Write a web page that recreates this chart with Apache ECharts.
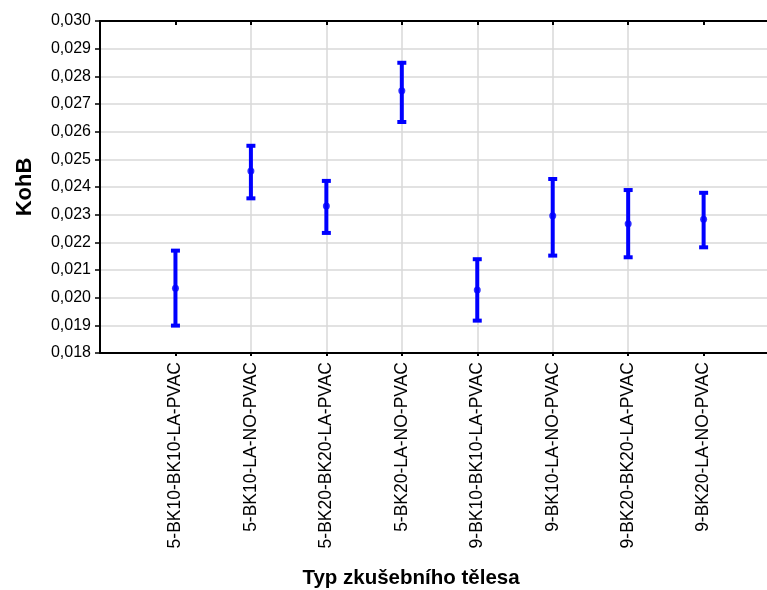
<!DOCTYPE html>
<html>
<head>
<meta charset="utf-8">
<script src="https://cdn.jsdelivr.net/npm/echarts@6/dist/echarts.min.js"></script>
<style>
html,body{margin:0;padding:0;background:#fff;}
#chart{width:767px;height:590px;}
</style>
</head>
<body>
<div id="chart"></div>
<script>
const categories = ["5-BK10-BK10-LA-PVAC","5-BK10-LA-NO-PVAC","5-BK20-BK20-LA-PVAC","5-BK20-LA-NO-PVAC","9-BK10-BK10-LA-PVAC","9-BK10-LA-NO-PVAC","9-BK20-BK20-LA-PVAC","9-BK20-LA-NO-PVAC"];
const means = [0.02034, 0.02458, 0.02331, 0.02748, 0.02028, 0.02296, 0.02267, 0.02283];
const lower = [0.01899, 0.02359, 0.02234, 0.02635, 0.01917, 0.02152, 0.02146, 0.02182];
const upper = [0.02170, 0.02549, 0.02422, 0.02849, 0.02139, 0.02429, 0.02389, 0.02379];
const yTicks = ["0,018","0,019","0,020","0,021","0,022","0,023","0,024","0,025","0,026","0,027","0,028","0,029","0,030"];
const catPositions = [1, 2, 3, 4, 5, 6, 7, 8];

const blue = '#0000ff';
const font = '"Liberation Sans", Arial, sans-serif';

const barData = categories.map((c, i) => [catPositions[i], lower[i], upper[i]]);
const meanData = categories.map((c, i) => [catPositions[i], means[i]]);

const chart = echarts.init(document.getElementById('chart'), null, {renderer: 'canvas'});
chart.setOption({
  animation: false,
  backgroundColor: '#fff',
  grid: {left: 100, top: 21, right: 0, height: 332},
  xAxis: [{
    type: 'value', min: 0, max: 8.84, interval: 1, position: 'bottom',
    axisLine: {show: true, lineStyle: {color: '#000', width: 2}},
    axisTick: {show: true, length: 3, customValues: catPositions, lineStyle: {color: '#000', width: 2}},
    axisLabel: {
      rotate: 90, margin: 9, fontSize: 17.5, color: '#000', fontFamily: font,
      customValues: catPositions,
      formatter: v => categories[Math.round(v) - 1] || ''
    },
    splitLine: {show: true, showMinLine: false, showMaxLine: false, lineStyle: {color: '#d9d9d9', width: 1.5}}
  }, {
    type: 'value', min: 0, max: 8.84, interval: 1, position: 'top',
    axisLine: {show: true, lineStyle: {color: '#000', width: 2}},
    axisTick: {show: true, inside: true, length: 4, customValues: catPositions, lineStyle: {color: '#000', width: 2}},
    axisLabel: {show: false},
    splitLine: {show: false}
  }],
  yAxis: {
    type: 'value', min: 0.018, max: 0.030, interval: 0.001,
    name: 'KohB', nameLocation: 'middle', nameGap: 64,
    nameTextStyle: {fontSize: 22, fontWeight: 'bold', color: '#000', fontFamily: font},
    axisLine: {show: true, lineStyle: {color: '#000', width: 2}},
    axisTick: {show: true, length: 5, lineStyle: {color: '#000', width: 1.5}},
    axisLabel: {
      margin: 9, fontSize: 16, color: '#000', fontFamily: font,
      formatter: v => yTicks[Math.round((v - 0.018) * 1000)]
    },
    splitLine: {show: true, lineStyle: {color: '#d9d9d9', width: 1.5}}
  },
  graphic: [{
    type: 'text', x: 411, y: 578,
    style: {text: 'Typ zkušebního tělesa', fontSize: 20.5, fontWeight: 'bold', fill: '#000', fontFamily: font,
            align: 'center', verticalAlign: 'middle'}
  }],
  series: [{
    type: 'custom',
    data: barData,
    renderItem: (params, api) => {
      const x = api.value(0);
      const pLo = api.coord([x, api.value(1)]);
      const pHi = api.coord([x, api.value(2)]);
      const st = {stroke: blue, lineWidth: 4};
      return {type: 'group', children: [
        {type: 'line', shape: {x1: pLo[0], y1: pLo[1], x2: pHi[0], y2: pHi[1]}, style: st},
        {type: 'line', shape: {x1: pHi[0] - 4.5, y1: pHi[1], x2: pHi[0] + 4.5, y2: pHi[1]}, style: st},
        {type: 'line', shape: {x1: pLo[0] - 4.5, y1: pLo[1], x2: pLo[0] + 4.5, y2: pLo[1]}, style: st}
      ]};
    },
    z: 3
  }, {
    type: 'scatter',
    data: meanData,
    symbol: 'circle', symbolSize: 7,
    itemStyle: {color: blue},
    z: 4
  }]
});
</script>
</body>
</html>
